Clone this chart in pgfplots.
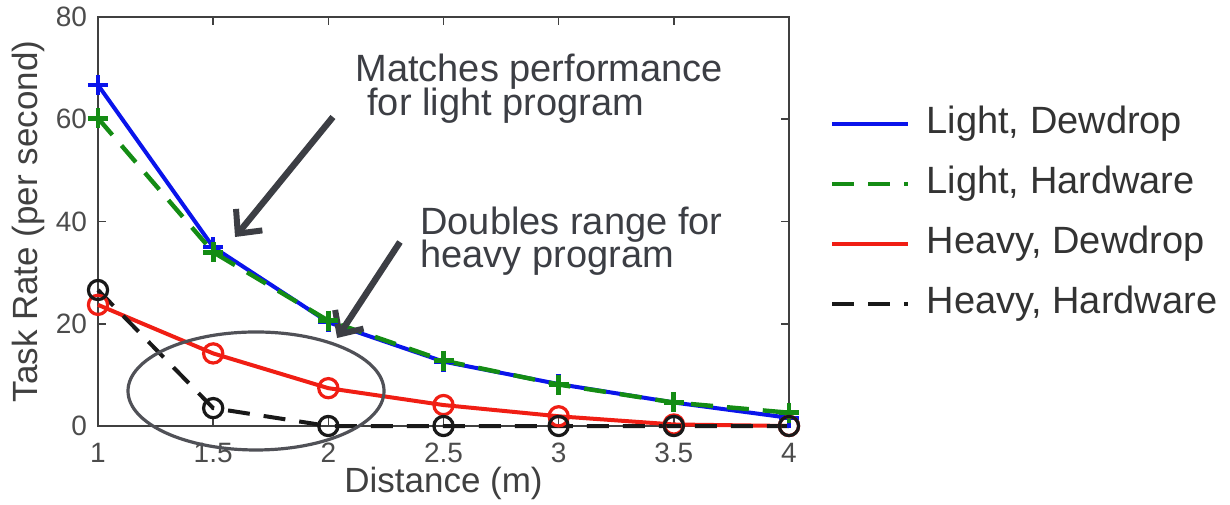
\documentclass[border=0pt]{standalone}
\usepackage{fontspec}
\setmainfont{Liberation Sans}
\usepackage{pgfplots}
\pgfplotsset{compat=1.18}
\usetikzlibrary{arrows.meta}
\definecolor{ann}{RGB}{60,62,68}
\definecolor{ldew}{RGB}{10,20,235}
\definecolor{lhw}{RGB}{20,140,20}
\definecolor{hdew}{RGB}{240,30,20}
\definecolor{hhw}{RGB}{25,25,25}
\begin{document}
\begin{tikzpicture}
\path[use as bounding box] (-49pt,-39pt) rectangle (566pt,213pt);
\begin{axis}[
  at={(0pt,0pt)}, anchor=south west,
  scale only axis, width=345.5pt, height=204.5pt,
  xmin=1, xmax=4, ymin=0, ymax=80,
  xtick={1,1.5,2,2.5,3,3.5,4},
  xticklabels={1,1.5,2,2.5,3,3.5,4},
  ytick={0,20,40,60,80},
  tick align=inside, major tick length=4pt,
  axis line style={line width=0.8pt, draw=black!75},
  every tick/.style={line width=0.8pt, black!75},
  /pgf/number format/assume math mode=true,
  ticklabel style={font=\fontsize{14}{17}\selectfont, text=black!70},
  xticklabel style={anchor=base, yshift=-18pt, inner sep=0pt},
  yticklabel style={anchor=east, xshift=-2pt},
  xlabel={Distance (m)},
  ylabel={Task Rate (per second)},
  label style={font=\fontsize{17.5}{21}\selectfont, text=black!75, inner sep=0pt},
  xlabel style={at={(axis description cs:0.5,0)}, anchor=base, yshift=-33pt},
  ylabel style={at={(axis description cs:-0.087,0.5)}, anchor=base, rotate=0},
  clip=false,
  legend image code/.code={\draw[#1] (0pt,0pt) -- (38pt,0pt);},
  legend cell align=left,
  legend style={at={(1.059,0.785)}, anchor=north west, draw=none, fill=none,
    inner sep=0pt, row sep=11.5pt, column sep=8pt,
    font=\fontsize{19}{22}\selectfont, text=black!80,
    nodes={inner sep=0pt, text height=14pt, text depth=4.5pt}},
]
\addplot[ldew, line width=2pt, mark=+, mark size=5pt, mark options={solid, line width=2.2pt}]
  coordinates {(1,66.7) (1.5,35) (2,20.3) (2.5,12.6) (3,8.2) (3.5,4.6) (4,1.6)};
\addlegendentry{Light, Dewdrop}
\addplot[lhw, line width=2.2pt, dash pattern=on 11pt off 7pt, mark=+, mark size=5pt, mark options={solid, line width=2.4pt}]
  coordinates {(1,60.2) (1.5,34) (2,20.6) (2.5,12.8) (3,8.1) (3.5,4.6) (4,2.6)};
\addlegendentry{Light, Hardware}
\addplot[hdew, line width=2pt, mark=o, mark size=4.8pt, mark options={solid, line width=1.6pt}]
  coordinates {(1,23.7) (1.5,14.2) (2,7.4) (2.5,4.1) (3,1.9) (3.5,0.3) (4,0)};
\addlegendentry{Heavy, Dewdrop}
\addplot[hhw, line width=2pt, dash pattern=on 11pt off 7pt, mark=o, mark size=4.8pt, mark options={solid, line width=1.6pt}]
  coordinates {(1,26.6) (1.5,3.5) (2,0) (2.5,0) (3,0) (3.5,0) (4,0)};
\addlegendentry{Heavy, Hardware}

\draw[ann!90, line width=1.6pt] (axis cs:1.686,6.85) ellipse [x radius=64pt, y radius=29.5pt];
\draw[ann, line width=3.2pt, -{Straight Barb[length=9pt,width=17pt,line width=3pt]}]
  (axis cs:2.020,60.44) -- (axis cs:1.595,36.97);
\draw[ann, line width=3.2pt, -{Straight Barb[length=9pt,width=17pt,line width=3pt]}]
  (axis cs:2.311,35.99) -- (axis cs:2.038,17.21);
\node[anchor=base west, inner sep=0pt, text depth=0pt, text=ann, font=\fontsize{19}{22}\selectfont] at (axis cs:2.116,67.3) {Matches performance};
\node[anchor=base west, inner sep=0pt, text height=11pt, text=ann, font=\fontsize{19}{22}\selectfont] at (axis cs:2.168,60.8) {for light program};
\node[anchor=base west, inner sep=0pt, text depth=0pt, text=ann, font=\fontsize{19}{22}\selectfont] at (axis cs:2.398,37.4) {Doubles range for};
\node[anchor=base west, inner sep=0pt, text height=11pt, text=ann, font=\fontsize{19}{22}\selectfont] at (axis cs:2.398,31.1) {heavy program};
\end{axis}
\end{tikzpicture}
\end{document}
